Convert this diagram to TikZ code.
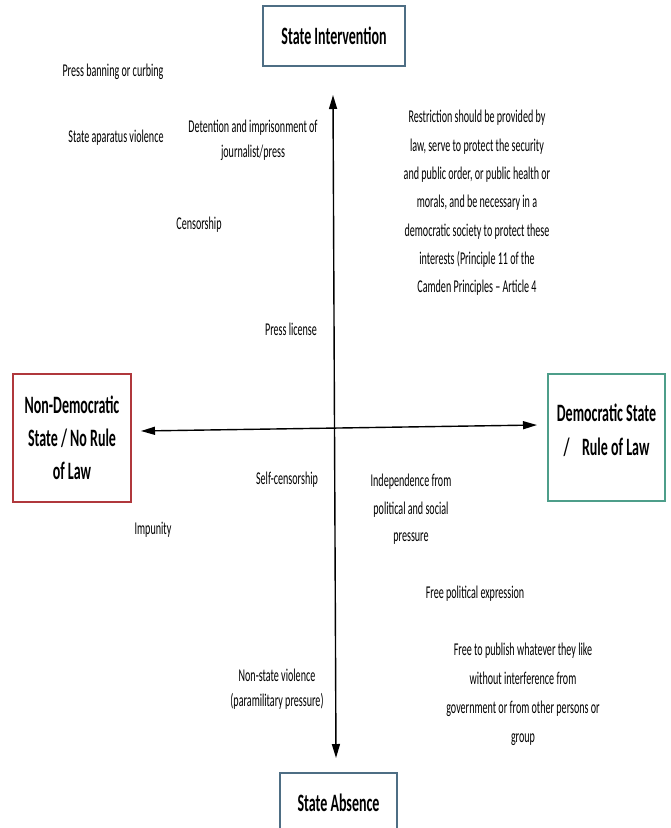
\documentclass[tikz,border=0pt]{standalone}
\usepackage{fontspec}
\setmainfont[FakeStretch=0.56]{Carlito}
\usetikzlibrary{arrows.meta}
\definecolor{slate}{HTML}{4E6E84}
\definecolor{redb}{HTML}{B0383C}
\definecolor{greenb}{HTML}{4D9E8A}
\tikzset{
  lbl/.style={font=\fontsize{18}{28}\selectfont, align=center, inner sep=0pt},
  boxlbl/.style={font=\bfseries\fontsize{25}{34}\selectfont, align=center, inner sep=0pt},
  qbox/.style={draw, line width=1.5pt, fill=white, inner sep=0pt, font=\bfseries\fontsize{25}{33}\selectfont, align=center},
  axis/.style={line width=1.4pt, {Triangle[length=14pt,width=8pt]}-{Triangle[length=14pt,width=8pt]}}
}
\begin{document}
\begin{tikzpicture}[x=1pt,y=-1pt]
\useasboundingbox[fill=white] (0,0) rectangle (670,828);
\clip (0,0) rectangle (670,828);
% boxes
\node[qbox, draw=slate, minimum width=142pt, minimum height=60pt] (si) at (334,36) {State Intervention};
\node[qbox, draw=slate, minimum width=117pt, minimum height=60pt] (sa) at (338.5,803) {State Absence};
\node[qbox, draw=redb, minimum width=118pt, minimum height=128pt] (nd) at (72,438) {Non-Democratic\\State / No Rule\\of Law};
\node[qbox, draw=greenb, minimum width=117pt, minimum height=127pt] (dem) at (606.5,437.5) {};
\node[boxlbl] (demt) at (606.5,430) {Democratic State\\/\enspace Rule of Law};
% axes
\coordinate (vtop) at (333,95);
\coordinate (vbot) at (336,758);
\coordinate (hleft) at (141,431);
\coordinate (hright) at (537,425);
\draw[axis] (vtop) -- (vbot);
\draw[axis] (hleft) -- (hright);
% labels
\node[lbl] (pb) at (113,72) {Press banning or curbing};
\node[lbl] (sav) at (116,138) {State aparatus violence};
\node[lbl, font=\fontsize{18}{25}\selectfont] (det) at (253,140) {Detention and imprisonment of\\journalist/press};
\node[lbl] (cen) at (199,225) {Censorship};
\node[lbl, font=\fontsize{18}{28.3}\selectfont] (res) at (477,203) {Restriction should be provided by\\law, serve to protect the security\\and public order, or public health or\\morals, and be necessary in a\\democratic society to protect these\\interests (Principle 11 of the\\Camden Principles -- Article 4};
\node[lbl] (pl) at (291,329) {Press license};
\node[lbl] (sc) at (287,480) {Self-censorship};
\node[lbl] (imp) at (153,530) {Impunity};
\node[lbl, font=\fontsize{18}{27.5}\selectfont] (ind) at (411,509.5) {Independence from\\political and social\\pressure};
\node[lbl] (fpe) at (475,594) {Free political expression};
\node[lbl, font=\fontsize{18}{29}\selectfont] (ftp) at (523,694) {Free to publish whatever they like\\without interference from\\government or from other persons or\\group};
\node[lbl, font=\fontsize{18}{25}\selectfont] (nsv) at (277,689.5) {Non-state violence\\(paramilitary pressure)};
\end{tikzpicture}
\end{document}
